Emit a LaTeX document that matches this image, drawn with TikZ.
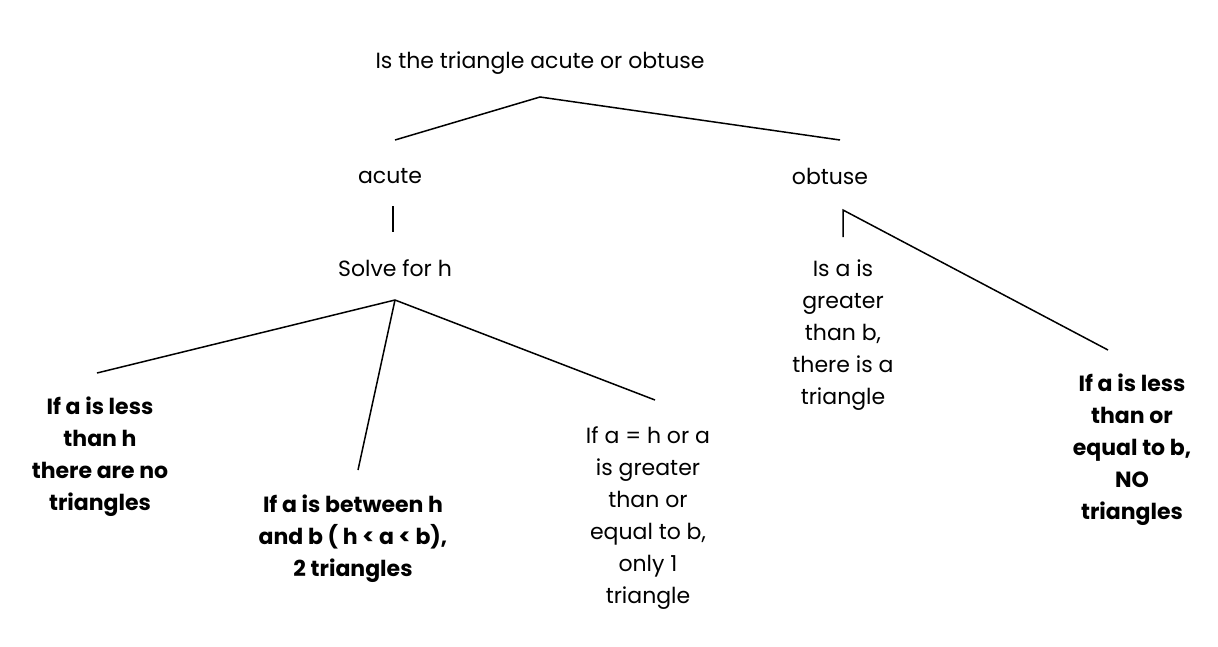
\documentclass[tikz,border=0pt]{standalone}
\usepackage{fontspec}
\setmainfont{Poppins}
\begin{document}
\begin{tikzpicture}[x=1pt,y=-1pt,
  lbl/.style={align=center,font=\fontsize{22}{32}\selectfont,inner sep=0pt},
  blbl/.style={lbl,font=\fontsize{22}{32}\selectfont\bfseries},
  edge/.style={line width=1.5pt}]
\useasboundingbox (0,0) rectangle (1218,646);
\node[lbl] (root) at (540,63) {Is the triangle acute or obtuse};
\node[lbl] (acute) at (390,176) {acute};
\node[lbl] (obtuse) at (830,176) {obtuse};
\node[lbl] (solve) at (395,268) {Solve for h};
\node[blbl] (l1) at (100,457) {If a is less\\than h\\there are no\\triangles};
\node[blbl] (l2) at (353,539) {If a is between h\\and b ( h < a < b),\\2 triangles};
\node[lbl] (l3) at (648,518) {If a = h or a\\is greater\\than or\\equal to b,\\only 1\\triangle};
\node[lbl] (r1) at (843,335) {Is a is\\greater\\than b,\\there is a\\triangle};
\node[blbl] (r2) at (1132,450) {If a is less\\than or\\equal to b,\\NO\\triangles};
\coordinate (rt) at (540,97);
\coordinate (a1) at (395,140);
\coordinate (o1) at (840,140);
\draw[edge] (a1) -- (rt) -- (o1);
\coordinate (at) at (393,206); \coordinate (ab) at (393,232);
\draw[edge] (at) -- (ab);
\coordinate (s) at (395,300);
\coordinate (e1) at (97,373); \coordinate (e2) at (358,470); \coordinate (e3) at (655,400);
\draw[edge] (s) -- (e1); \draw[edge] (s) -- (e2); \draw[edge] (s) -- (e3);
\coordinate (o) at (843,210); \coordinate (f1) at (843,237); \coordinate (f2) at (1108,350);
\draw[edge] (f1) -- (o) -- (f2);
\end{tikzpicture}
\end{document}
